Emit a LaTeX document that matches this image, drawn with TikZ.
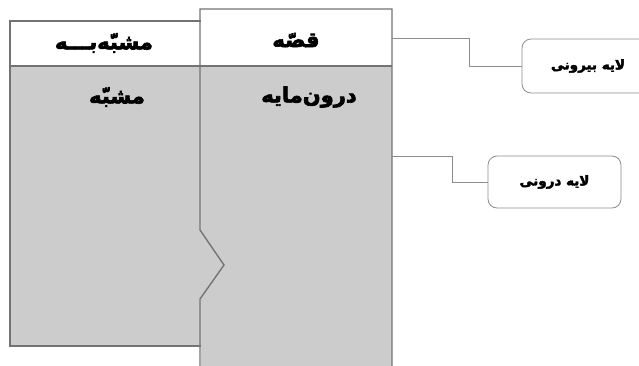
\documentclass[tikz,border=0pt]{standalone}
\usepackage{fontspec}
\newfontfamily\arabicfont[Script=Arabic,FakeBold=3]{DejaVu Sans}
\TeXXeTstate=1
\begin{document}
\begin{tikzpicture}[x=1pt,y=-1pt,
  edge/.style={draw=black!55,line width=1.4pt},
  thin/.style={draw=black!45,line width=0.8pt},
  head/.style={font=\arabicfont\bfseries\fontsize{21}{24}\selectfont,inner sep=0pt},
  lab/.style={draw=black!45,line width=0.8pt,rounded corners=9pt,fill=white,
     font=\arabicfont\bfseries\fontsize{13.5}{15}\selectfont,inner sep=0pt}]
\useasboundingbox (0,0) rectangle (639,365);
\clip (0,0) rectangle (639,365);
% fills
\fill[white] (0,0) rectangle (639,365);
\fill[black!20] (10,66) rectangle (201,346);
\fill[black!20] (201,66) rectangle (392,366);
% outlines
\draw[edge] (201,66) -- (10,66) -- (10,21) -- (201,21);
\draw[edge] (10,66) -- (10,346) -- (201,346);
\draw[edge] (200,366) -- (200,299) -- (224,265) -- (200,230) -- (200,9) -- (392,9) -- (392,366);
\draw[edge] (10,66) -- (392,66);
% texts
\node[head] (h1) at (104,43) {\beginR مشبّه‌بـــه\endR};
\node[head] (h2) at (296,40) {\beginR قصّه\endR};
\node[head] (b1) at (117,97) {\beginR مشبّه\endR};
\node[head] (b2) at (309,97) {\beginR درون‌مایه\endR};
% labels
\node[lab,minimum width=132pt,minimum height=54pt] (L1) at (588,66) {\beginR لایه بیرونی\endR};
\node[lab,minimum width=133pt,minimum height=52pt] (L2) at (554.5,182) {\beginR لایه درونی\endR};
\coordinate (c1) at (392,38);
\coordinate (c2) at (392,156);
\draw[thin] (c1) -- (469,38) -- (469,66) -- (L1.west);
\draw[thin] (c2) -- (452,156) -- (452,182) -- (L2.west);
\end{tikzpicture}
\end{document}
